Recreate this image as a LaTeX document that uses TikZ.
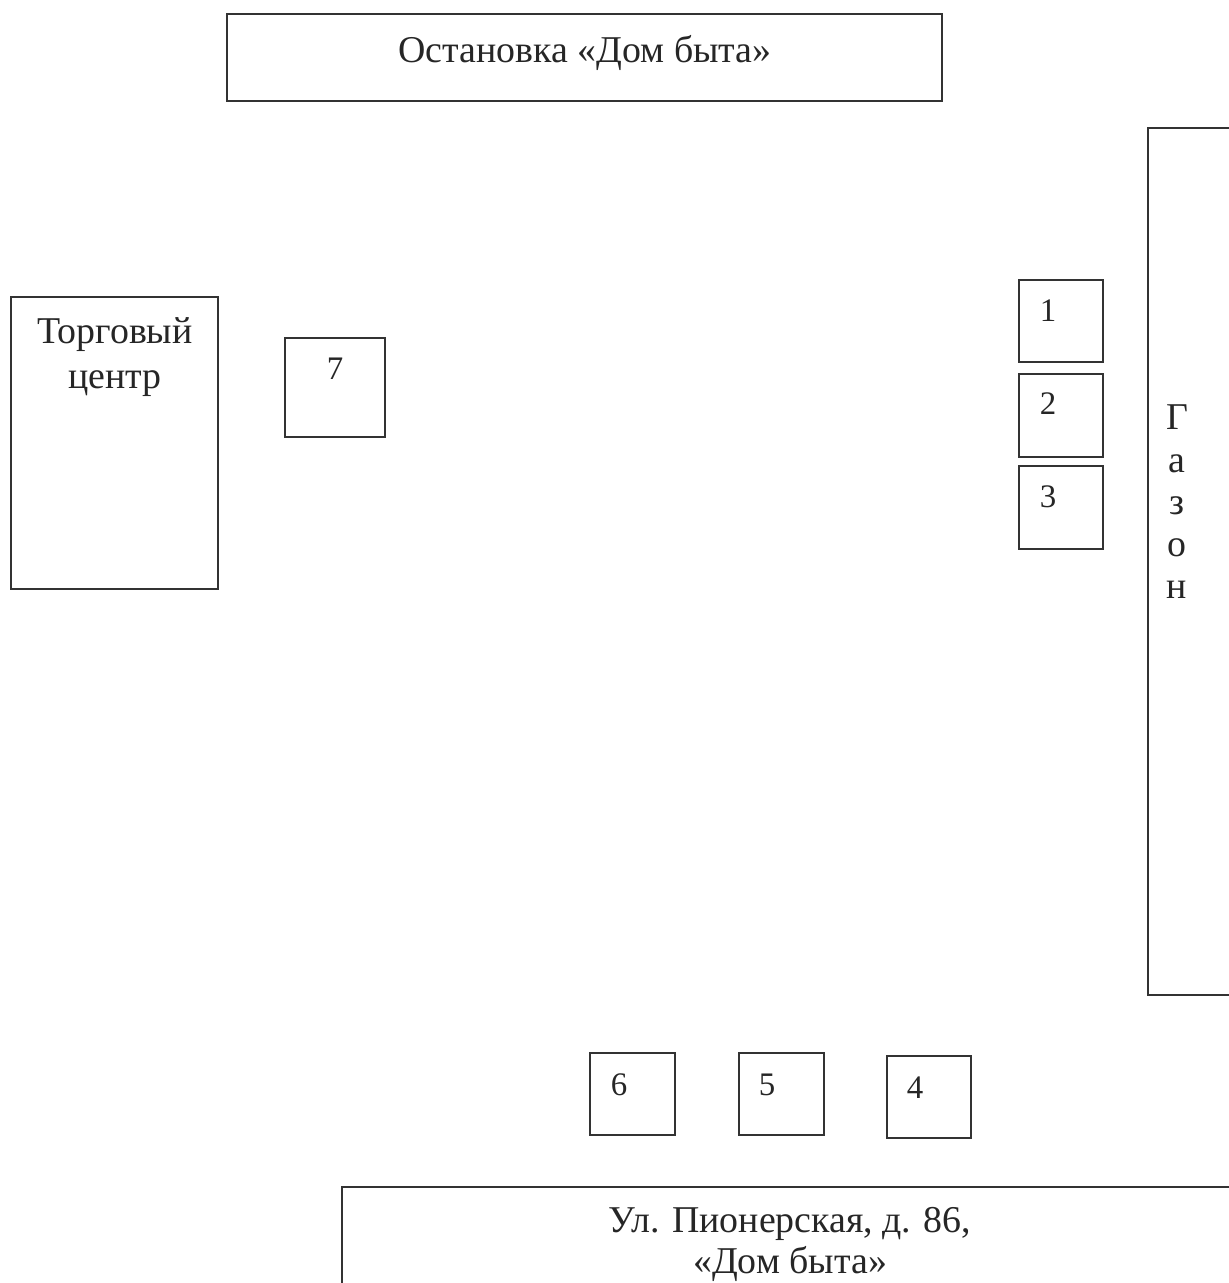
\documentclass[tikz,border=0pt]{standalone}
\usepackage{fontspec}
\setmainfont{Liberation Serif}
\begin{document}
\begin{tikzpicture}[x=1bp,y=-1bp,
  box/.style={draw=black!80,line width=1.6bp,anchor=north west,inner sep=0pt,outer sep=0pt},
  lbl/.style={font=\fontsize{38}{46}\selectfont,anchor=base,inner sep=0pt,text=black!85},
  num/.style={font=\fontsize{33}{40}\selectfont,anchor=base,inner sep=0pt,text=black!85}]
\clip (0,0) rectangle (1229,1283);
% boxes
\node[box,minimum width=715bp,minimum height=87bp] (stop) at (227,14) {};
\node[box,minimum width=207bp,minimum height=292bp] (mall) at (11,297) {};
\node[box,minimum width=100bp,minimum height=99bp] (b7) at (285,338) {};
\node[box,minimum width=84bp,minimum height=82bp] (b1) at (1019,280) {};
\node[box,minimum width=84bp,minimum height=83bp] (b2) at (1019,374) {};
\node[box,minimum width=84bp,minimum height=83bp] (b3) at (1019,466) {};
\node[box,minimum width=200bp,minimum height=867bp] (lawn) at (1148,128) {};
\node[box,minimum width=85bp,minimum height=82bp] (b6) at (590,1053) {};
\node[box,minimum width=85bp,minimum height=82bp] (b5) at (739,1053) {};
\node[box,minimum width=84bp,minimum height=82bp] (b4) at (887,1056) {};
\node[box,minimum width=1000bp,minimum height=200bp] (street) at (342,1187) {};
% texts
\node[lbl] (tstop) at (585,62) {Остановка «Дом быта»};
\node[lbl] (tmall1) at (115,343) {Торговый};
\node[lbl] (tmall2) at (115,388) {центр};
\node[num] (t7) at (335,379) {7};
\node[num] (t1) at (1048,321) {1};
\node[num] (t2) at (1048,414) {2};
\node[num] (t3) at (1048,507) {3};
\node[num] (t6) at (619,1095) {6};
\node[num] (t5) at (767,1095) {5};
\node[num] (t4) at (915,1098) {4};
\node[lbl] (g1) at (1177,429) {Г};
\node[lbl] (g2) at (1177,472) {а};
\node[lbl] (g3) at (1177,514) {з};
\node[lbl] (g4) at (1177,556) {о};
\node[lbl] (g5) at (1177,598) {н};
\node[lbl] (ts1) at (790,1232) {Ул. Пионерская, д. 86,};
\node[lbl] (ts2) at (790,1273) {«Дом быта»};
\end{tikzpicture}
\end{document}
